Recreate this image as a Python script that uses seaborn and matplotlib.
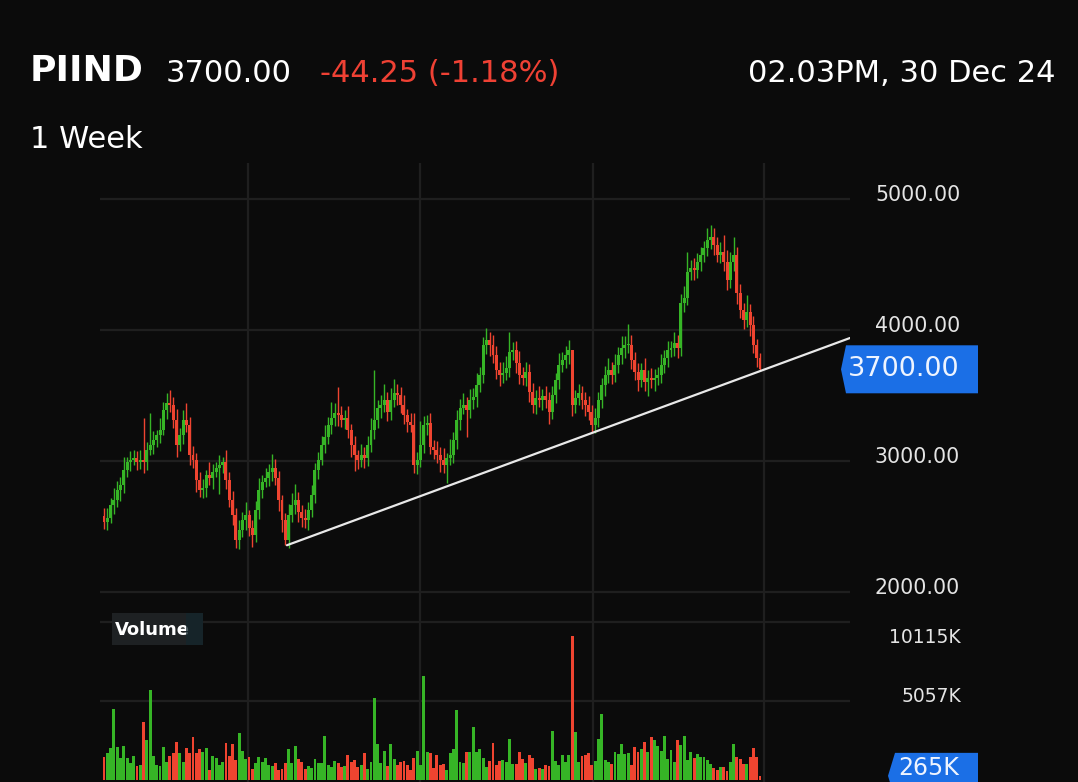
import numpy as np
import pandas as pd
import matplotlib
matplotlib.use("Agg")
import matplotlib.pyplot as plt
import seaborn as sns
from matplotlib.patches import Polygon, Rectangle

# ---------------- data ----------------
ticker = "PIIND"
last_price = "3700.00"
change_text = "-44.25 (-1.18%)"
timestamp = "02.03PM, 30 Dec 24"
interval = "1 Week"

first_open = 2580
closes = [
    2534, 2565, 2664, 2702, 2778, 2817, 2931, 2992, 3007, 3023,
    2992, 3007, 2990, 3084, 3120, 3160, 3200, 3236, 3390, 3440,
    3427, 3310, 3120, 3200, 3313, 3275, 3046, 3008, 2855, 2778,
    2794, 2893, 2870, 2916, 2946, 2969, 2992, 2855, 2702, 2588,
    2397, 2473, 2550, 2588, 2488, 2435, 2626, 2778, 2840, 2870,
    2916, 2946, 2870, 2702, 2550, 2397, 2588, 2664, 2702, 2611,
    2565, 2550, 2626, 2740, 2931, 3007, 3122, 3183, 3275, 3328,
    3366, 3350, 3313, 3328, 3236, 3122, 3046, 3007, 3046, 3023,
    3122, 3236, 3313, 3405, 3427, 3466, 3374, 3466, 3519, 3504,
    3427, 3350, 3298, 3275, 2969, 3007, 3122, 3275, 3290, 3107,
    3084, 3046, 3007, 2969, 3023, 3046, 3160, 3313, 3405, 3427,
    3390, 3466, 3489, 3580, 3656, 3885, 3924, 3885, 3809, 3695,
    3656, 3672, 3710, 3832, 3847, 3748, 3656, 3633, 3679, 3527,
    3427, 3481, 3466, 3496, 3466, 3374, 3504, 3618, 3733, 3771,
    3809, 3847, 3427, 3481, 3519, 3466, 3427, 3374, 3275, 3328,
    3466, 3580, 3656, 3695, 3656, 3733, 3809, 3863, 3885, 3885,
    3771, 3679, 3618, 3695, 3603, 3633, 3618, 3633, 3656, 3733,
    3786, 3847, 3863, 3901, 3863, 4206, 4244, 4443, 4473, 4458,
    4519, 4572, 4626, 4687, 4710, 4649, 4572, 4595, 4519, 4382,
    4519, 4572, 4282, 4153, 4076, 4137, 4038, 3885, 3786, 3700,
]
up_wick = [
    60, 80, 50, 90, 70, 60, 100, 40, 70, 60,
    50, 80, 320, 60, 250, 70, 40, 90, 60, 80,
    100, 60, 90, 50, 80, 130, 60, 70, 50, 60,
    70, 40, 100, 60, 50, 80, 40, 90, 60, 70,
    50, 80, 60, 100, 40, 60, 70, 90, 50, 80,
    60, 110, 70, 50, 40, 50, 80, 90, 120, 60,
    50, 70, 60, 80, 50, 60, 70, 90, 60, 120,
    80, 200, 70, 60, 90, 50, 70, 40, 80, 60,
    70, 90, 380, 60, 80, 120, 60, 90, 110, 70,
    60, 80, 50, 70, 90, 60, 180, 70, 60, 80,
    50, 70, 60, 90, 40, 120, 60, 80, 70, 90,
    60, 80, 70, 90, 60, 60, 90, 60, 80, 70,
    60, 80, 90, 150, 60, 70, 90, 60, 80, 60,
    70, 60, 90, 50, 80, 60, 70, 50, 90, 60,
    70, 80, 0, 60, 70, 50, 60, 70, 50, 80,
    60, 50, 70, 90, 60, 80, 60, 90, 70, 160,
    80, 60, 70, 50, 90, 60, 80, 70, 60, 80,
    60, 70, 50, 80, 60, 70, 90, 150, 60, 80,
    70, 60, 50, 90, 90, 70, 60, 80, 130, 90,
    80, 140, 60, 70, 50, 130, 60, 70, 50, 40,
]
dn_wick = [
    50, 60, 40, 70, 50, 80, 60, 50, 70, 40,
    60, 50, 80, 60, 40, 70, 50, 60, 40, 70,
    50, 60, 90, 40, 70, 50, 80, 60, 90, 50,
    60, 70, 50, 80, 40, 200, 60, 70, 50, 80,
    60, 70, 50, 80, 60, 90, 50, 70, 60, 40,
    60, 70, 50, 80, 90, 40, 60, 50, 70, 80,
    70, 60, 80, 50, 60, 70, 40, 60, 50, 70,
    60, 80, 50, 70, 60, 90, 120, 70, 50, 80,
    60, 50, 70, 60, 80, 50, 70, 60, 50, 80,
    60, 70, 80, 50, 60, 70, 50, 60, 80, 50,
    70, 60, 90, 60, 140, 50, 60, 70, 80, 50,
    210, 60, 70, 80, 50, 60, 70, 80, 60, 70,
    80, 60, 50, 70, 60, 80, 70, 50, 60, 80,
    60, 70, 50, 80, 60, 90, 50, 60, 70, 50,
    60, 70, 80, 60, 50, 70, 80, 60, 50, 60,
    70, 60, 80, 60, 70, 50, 60, 70, 80, 60,
    70, 60, 80, 50, 70, 110, 60, 80, 50, 60,
    60, 70, 50, 60, 80, 60, 70, 50, 60, 80,
    60, 70, 50, 60, 70, 80, 50, 60, 70, 80,
    60, 70, 80, 60, 70, 50, 80, 60, 70, 10,
]
volume_k = [
    1470, 1730, 2050, 4540, 2110, 1400, 2180, 1400, 1090, 1540,
    900, 960, 3710, 2560, 5760, 1540, 960, 900, 2110, 1150,
    1540, 1730, 2430, 1730, 1150, 2050, 1730, 2750, 1730, 1980,
    1790, 2050, 640, 1540, 1410, 960, 1150, 2370, 1540, 2300,
    1250, 3010, 1860, 1340, 1470, 700, 1090, 1470, 1150, 1410,
    960, 900, 1090, 640, 700, 1090, 1980, 1090, 2180, 1340,
    1150, 700, 900, 770, 1340, 1090, 1090, 2820, 960, 830,
    1220, 1100, 830, 900, 1600, 1150, 1280, 830, 960, 1730,
    700, 1150, 5250, 2300, 1090, 1860, 900, 2300, 1340, 960,
    1150, 1200, 960, 640, 1410, 1860, 960, 6660, 1790, 1730,
    770, 1600, 960, 1020, 640, 1730, 1980, 4480, 1150, 1090,
    1790, 1790, 3390, 1790, 1980, 1400, 830, 1220, 2370, 960,
    1220, 1300, 1150, 2620, 1020, 1020, 1790, 1340, 1090, 1600,
    1400, 700, 770, 700, 960, 900, 3140, 1200, 960, 1600,
    1150, 1600, 9220, 3070, 1150, 1540, 1600, 1730, 960, 1220,
    2620, 4220, 1280, 1150, 1020, 1790, 1660, 2300, 1660, 1730,
    960, 2110, 1790, 1980, 2430, 1790, 2750, 2560, 2180, 1860,
    2820, 1340, 1920, 1150, 2560, 2240, 2820, 1280, 1790, 1400,
    1660, 1470, 1470, 1300, 1020, 770, 640, 830, 830, 580,
    1150, 2300, 1500, 1340, 1020, 1020, 1470, 2050, 1470, 265,
]
price_ticks = [2000, 3000, 4000, 5000]
volume_ticks = [5057.5, 10115]
volume_tick_labels = ["5057K", "10115K"]
year_marks = [43.7, 95.9, 148.4, 200.3]      # Jan 1st of 2022..2025 (candle index)
trend_x = [55.5, 226.3]
trend_y = [2357, 3939]

# ---------------- style ----------------
W, H = 1078, 782
BG = "#0b0b0b"
GRID = "#1f1f1f"
GREEN = "#36b526"
RED = "#ef4430"
TXT = "#e4e4e4"
BLUE = "#1b6fe6"

sns.set_theme(style="dark", rc={"axes.facecolor": BG, "figure.facecolor": BG})
plt.rcParams["font.family"] = ["DejaVu Sans"]

closes_a = np.array(closes, dtype=float)
opens_a = np.r_[first_open, closes_a[:-1]]
highs = np.maximum(opens_a, closes_a) + np.array(up_wick)
lows = np.minimum(opens_a, closes_a) - np.array(dn_wick)
N = len(closes_a)
idx = np.arange(N)
up = closes_a >= opens_a
colors = np.where(up, GREEN, RED)

def fx(px):
    return px / W

def fy(py):
    return 1 - py / H

fig = plt.figure(figsize=(W / 100, H / 100), dpi=100, facecolor=BG)
ax = fig.add_axes([fx(100), fy(600), 750 / W, 437 / H])
axv = fig.add_axes([fx(100), fy(782), 750 / W, 182 / H])

step = 656 / (N - 1)
xlim = (-4 / step, 746 / step)

# price panel
ppx = 1000 / 131.0
ax.set_ylim(5000 - (600 - 199) * ppx, 5000 + (199 - 163) * ppx)
for p in price_ticks:
    ax.axhline(p, color=GRID, lw=1.6, zorder=0)
for m in year_marks:
    ax.axvline(m, color=GRID, lw=1.6, zorder=0)
ax.vlines(idx, lows, highs, colors=colors, lw=1.0, zorder=2)
body = np.maximum(np.abs(closes_a - opens_a), 8)
ax.bar(idx, body, bottom=np.minimum(opens_a, closes_a), width=0.9,
       color=colors, linewidth=0, zorder=3)
ax.plot(trend_x, trend_y, color="#e8e8e8", lw=1.6, zorder=5, solid_capstyle="round")
ax.set_xlim(*xlim)

# volume panel
vpx = 5057.5 / 79.0
df = pd.DataFrame({"idx": idx, "vol": volume_k, "dir": np.where(up, "up", "down")})
sns.barplot(data=df, x="idx", y="vol", hue="dir", palette={"up": GREEN, "down": RED},
            native_scale=True, dodge=False, width=0.88, saturation=1, errorbar=None,
            legend=False, linewidth=0, ax=axv, zorder=3)
axv.set_ylim(-2 * vpx, (780 - 600) * vpx)
axv.set_xlim(*xlim)
for v in volume_ticks:
    axv.axhline(v, color=GRID, lw=1.6, zorder=0)
for m in year_marks:
    axv.axvline(m, color=GRID, lw=1.6, zorder=0)

for a in (ax, axv):
    a.set_facecolor(BG)
    a.set_xticks([])
    a.set_yticks([])
    a.set_xlabel("")
    a.set_ylabel("")
    a.grid(False)
    for s in a.spines.values():
        s.set_visible(False)

# axis labels
for p in price_ticks:
    ax.annotate(f"{p:.2f}", xy=(875, p), xycoords=("figure pixels", "data"),
                xytext=(0, 3), textcoords="offset points", ha="left", va="center",
                color=TXT, fontsize=14.8, annotation_clip=False)
vol_offsets = [3, -11]
for v, lab, off in zip(volume_ticks, volume_tick_labels, vol_offsets):
    axv.annotate(lab, xy=(961, v), xycoords=("figure pixels", "data"),
                 xytext=(0, off), textcoords="offset points", ha="right", va="center",
                 color=TXT, fontsize=13.5, annotation_clip=False)

# last price tag
yc = H - ax.transData.transform((0, closes_a[-1]))[1]
tag = Polygon([(fx(841), fy(yc)), (fx(846), fy(yc - 24)), (fx(978), fy(yc - 24)),
               (fx(978), fy(yc + 24)), (fx(846), fy(yc + 24))],
              closed=True, transform=fig.transFigure, facecolor=BLUE, edgecolor="none", zorder=5)
fig.add_artist(tag)
fig.text(fx(848), fy(yc), last_price, color="#eef4ff", fontsize=19.5, ha="left",
         va="center", zorder=6)

# last volume tag
yv = H - axv.transData.transform((0, volume_k[-1]))[1]
vtag = Polygon([(fx(888), fy(yv)), (fx(895), fy(yv - 23)), (fx(978), fy(yv - 23)),
                (fx(978), fy(yv + 23)), (fx(895), fy(yv + 23))],
               closed=True, transform=fig.transFigure, facecolor=BLUE, edgecolor="none", zorder=5)
fig.add_artist(vtag)
fig.text(fx(898), fy(775), f"{volume_k[-1]}K", color="#eef4ff", fontsize=17, ha="left",
         va="baseline", zorder=6)

# Volume label
fig.add_artist(Rectangle((fx(112), fy(645)), 91 / W, 32 / H, transform=fig.transFigure,
                         facecolor="#1e2123", edgecolor="none", zorder=5))
fig.text(fx(115), fy(630), "Volume", color="white", fontsize=13, fontweight="bold",
         ha="left", va="center", zorder=6)
fig.add_artist(Rectangle((fx(186), fy(645)), 17 / W, 32 / H, transform=fig.transFigure,
                         facecolor="#14262c", edgecolor="none", alpha=0.75, zorder=7))

# header
fig.text(fx(30), fy(81), ticker, color="white", fontsize=26, fontweight="bold",
         ha="left", va="baseline")
fig.text(fx(166), fy(82), last_price, color="white", fontsize=22, ha="left", va="baseline")
fig.text(fx(320), fy(82), change_text, color="#ef4134", fontsize=22, ha="left", va="baseline")
fig.text(fx(1055), fy(82), timestamp, color="white", fontsize=22, ha="right", va="baseline")
fig.text(fx(30), fy(148), interval, color="white", fontsize=22, ha="left", va="baseline")

fig.savefig("out.png", dpi=100, facecolor=BG)
